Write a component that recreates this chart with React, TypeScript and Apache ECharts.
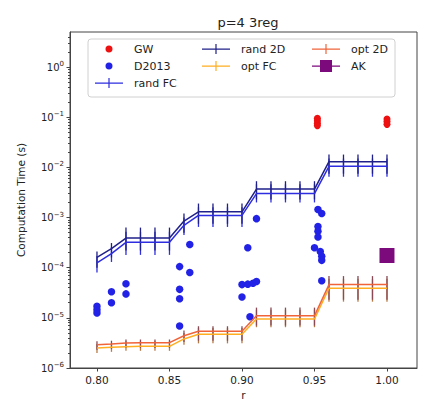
import React, { useEffect, useRef } from 'react';
import * as echarts from 'echarts';

// ---- data ----
const X = [0.80, 0.81, 0.82, 0.83, 0.84, 0.85, 0.86, 0.87, 0.88, 0.89, 0.90, 0.91, 0.92, 0.93, 0.94, 0.95, 0.96, 0.97, 0.98, 0.99, 1.00];

const RAND_FC = [1.25e-4, 1.9e-4, 3.2e-4, 3.2e-4, 3.2e-4, 3.2e-4, 7.0e-4, 1.1e-3, 1.1e-3, 1.1e-3, 1.1e-3, 3.0e-3, 3.0e-3, 3.0e-3, 3.0e-3, 3.0e-3, 1.05e-2, 1.05e-2, 1.05e-2, 1.05e-2, 1.05e-2];
const RAND_FC_LO = [8e-5, 1.3e-4, 1.8e-4, 1.8e-4, 1.8e-4, 1.8e-4, 4.5e-4, 6.5e-4, 6.5e-4, 6.5e-4, 6.5e-4, 2.0e-3, 2.0e-3, 2.0e-3, 2.0e-3, 2.0e-3, 6.5e-3, 6.5e-3, 6.5e-3, 6.5e-3, 6.5e-3];
const RAND_FC_HI = [1.7e-4, 2.6e-4, 5.2e-4, 5.2e-4, 5.2e-4, 5.2e-4, 1.0e-3, 1.6e-3, 1.6e-3, 1.6e-3, 1.6e-3, 4.6e-3, 4.6e-3, 4.6e-3, 4.6e-3, 4.6e-3, 1.5e-2, 1.5e-2, 1.5e-2, 1.5e-2, 1.5e-2];

const RAND_2D = [1.6e-4, 2.4e-4, 3.9e-4, 3.9e-4, 3.9e-4, 3.9e-4, 8.5e-4, 1.3e-3, 1.3e-3, 1.3e-3, 1.3e-3, 3.7e-3, 3.7e-3, 3.7e-3, 3.7e-3, 3.7e-3, 1.3e-2, 1.3e-2, 1.3e-2, 1.3e-2, 1.3e-2];
const RAND_2D_LO = [1.0e-4, 1.6e-4, 2.2e-4, 2.2e-4, 2.2e-4, 2.2e-4, 5.0e-4, 7.5e-4, 7.5e-4, 7.5e-4, 7.5e-4, 2.3e-3, 2.3e-3, 2.3e-3, 2.3e-3, 2.3e-3, 7.5e-3, 7.5e-3, 7.5e-3, 7.5e-3, 7.5e-3];
const RAND_2D_HI = [2.1e-4, 3.1e-4, 6.3e-4, 6.3e-4, 6.3e-4, 6.3e-4, 1.2e-3, 1.9e-3, 1.9e-3, 1.9e-3, 1.9e-3, 5.3e-3, 5.3e-3, 5.3e-3, 5.3e-3, 5.3e-3, 1.8e-2, 1.8e-2, 1.8e-2, 1.8e-2, 1.8e-2];

const OPT_FC = [2.5e-6, 2.6e-6, 2.65e-6, 2.7e-6, 2.7e-6, 2.7e-6, 3.8e-6, 4.7e-6, 4.7e-6, 4.7e-6, 4.7e-6, 9.5e-6, 9.5e-6, 9.5e-6, 9.5e-6, 9.5e-6, 3.9e-5, 3.9e-5, 3.9e-5, 3.9e-5, 3.9e-5];
const OPT_FC_LO = [2.0e-6, 2.1e-6, 2.2e-6, 2.2e-6, 2.2e-6, 2.2e-6, 2.9e-6, 3.1e-6, 3.1e-6, 3.1e-6, 3.1e-6, 6.5e-6, 6.5e-6, 6.5e-6, 6.5e-6, 6.5e-6, 2.1e-5, 2.1e-5, 2.1e-5, 2.1e-5, 2.1e-5];
const OPT_FC_HI = [3.0e-6, 3.1e-6, 3.4e-6, 3.4e-6, 3.4e-6, 3.4e-6, 5.0e-6, 6.3e-6, 6.3e-6, 6.3e-6, 6.3e-6, 1.45e-5, 1.45e-5, 1.45e-5, 1.45e-5, 1.45e-5, 6.0e-5, 6.0e-5, 6.0e-5, 6.0e-5, 6.0e-5];

const OPT_2D = [2.9e-6, 3.0e-6, 3.15e-6, 3.2e-6, 3.2e-6, 3.2e-6, 4.4e-6, 5.4e-6, 5.4e-6, 5.4e-6, 5.4e-6, 1.1e-5, 1.1e-5, 1.1e-5, 1.1e-5, 1.1e-5, 4.6e-5, 4.6e-5, 4.6e-5, 4.6e-5, 4.6e-5];
const OPT_2D_LO = [2.3e-6, 2.4e-6, 2.5e-6, 2.5e-6, 2.5e-6, 2.5e-6, 3.3e-6, 3.5e-6, 3.5e-6, 3.5e-6, 3.5e-6, 7.0e-6, 7.0e-6, 7.0e-6, 7.0e-6, 7.0e-6, 2.3e-5, 2.3e-5, 2.3e-5, 2.3e-5, 2.3e-5];
const OPT_2D_HI = [3.4e-6, 3.5e-6, 3.7e-6, 3.7e-6, 3.7e-6, 3.7e-6, 5.6e-6, 6.8e-6, 6.8e-6, 6.8e-6, 6.8e-6, 1.6e-5, 1.6e-5, 1.6e-5, 1.6e-5, 1.6e-5, 6.8e-5, 6.8e-5, 6.8e-5, 6.8e-5, 6.8e-5];

const GW_X = [0.952, 0.952, 0.952, 0.952, 1.0, 1.0, 1.0];
const GW_Y = [0.095, 0.085, 0.076, 0.068, 0.092, 0.082, 0.072];

const D2013_X = [0.80, 0.80, 0.80, 0.81, 0.81, 0.82, 0.82, 0.857, 0.857, 0.857, 0.857, 0.864, 0.864, 0.900, 0.900, 0.904, 0.904, 0.9055, 0.9076, 0.910, 0.910, 0.9524, 0.955, 0.9524, 0.9524, 0.9524, 0.950, 0.954, 0.955, 0.955, 0.955];
const D2013_Y = [1.7e-5, 1.45e-5, 1.25e-5, 3.3e-5, 2.0e-5, 4.8e-5, 3.0e-5, 1.05e-4, 3.7e-5, 2.4e-5, 6.9e-6, 2.9e-4, 8.0e-5, 2.6e-5, 4.6e-5, 2.5e-4, 4.7e-5, 1.05e-5, 4.9e-5, 5.3e-5, 9.5e-4, 1.45e-3, 1.2e-3, 6.6e-4, 5.3e-4, 4.1e-4, 2.5e-4, 2.1e-4, 1.7e-4, 1.4e-4, 5.5e-5];

const AK_X = [1.0];
const AK_Y = [1.75e-4];

const X_TICKS = [0.80, 0.85, 0.90, 0.95, 1.00];
const Y_TICKS = [1e-6, 1e-5, 1e-4, 1e-3, 1e-2, 1e-1, 1e0];
const Y_MINOR = [2e-6, 3e-6, 4e-6, 5e-6, 6e-6, 7e-6, 8e-6, 9e-6, 2e-5, 3e-5, 4e-5, 5e-5, 6e-5, 7e-5, 8e-5, 9e-5, 2e-4, 3e-4, 4e-4, 5e-4, 6e-4, 7e-4, 8e-4, 9e-4, 2e-3, 3e-3, 4e-3, 5e-3, 6e-3, 7e-3, 8e-3, 9e-3, 2e-2, 3e-2, 4e-2, 5e-2, 6e-2, 7e-2, 8e-2, 9e-2, 2e-1, 3e-1, 4e-1, 5e-1, 6e-1, 7e-1, 8e-1, 9e-1, 2, 3, 4];

const X_MIN = 0.7814;
const X_MAX = 1.0207;
const Y_MIN = 1e-6;
const Y_MAX = 5;

const C_RAND_FC = '#2e2ee0';
const C_RAND_2D = '#20208a';
const C_OPT_FC = '#ffae22';
const C_OPT_2D = '#f0643a';

const FONT = 'DejaVu Sans';

const CORNERS = 'M0,0h0.01v0.01h-0.01zM27.99,11.99h0.01v0.01h-0.01z';
const ICON_BAR = 'path://' + CORNERS + 'M0,5.4h28v1.3h-28zM13.4,1h1.2v10h-1.2z';
const ICON_DOT = 'path://' + CORNERS + 'M10.5,6a3.5,3.5 0 1,0 7,0a3.5,3.5 0 1,0 -7,0z';
const ICON_AK = 'path://' + CORNERS + 'M0,5.4h28v1.3h-28zM8,0h12v12h-12z';

function zip(xs: number[], ys: number[]) {
  return xs.map((x, i) => [x, ys[i]]);
}

function errSeries(name: string, lo: number[], hi: number[], color: string, z: number) {
  return {
    type: 'custom',
    name,
    xAxisIndex: 0,
    yAxisIndex: 0,
    z,
    data: X.map((x, i) => [x, lo[i], hi[i]]),
    encode: { x: 0, y: [1, 2] },
    renderItem: (_p: any, api: any) => {
      const a = api.coord([api.value(0), api.value(1)]);
      const b = api.coord([api.value(0), api.value(2)]);
      return {
        type: 'line',
        shape: { x1: a[0], y1: a[1], x2: b[0], y2: b[1] },
        style: { stroke: color, lineWidth: 1.3 },
      };
    },
  };
}

function lineSeries(name: string, ys: number[], color: string, z: number) {
  return {
    type: 'line',
    name,
    xAxisIndex: 0,
    yAxisIndex: 0,
    z,
    data: zip(X, ys),
    showSymbol: false,
    symbol: 'none',
    color,
    lineStyle: { color, width: 1.5 },
  };
}

function fmtPow(v: number) {
  const e = Math.round(Math.log10(v));
  const s = e < 0 ? '\u2212' + -e : '' + e;
  return '{b|10}{s|' + s + '}';
}

const legendText = { fontFamily: FONT, fontSize: 11, color: '#222', padding: [0, 0, 0, 6] };

function legendCol(left: number, data: any[]) {
  return {
    orient: 'vertical',
    left,
    top: 43,
    padding: 0,
    itemGap: 5,
    itemWidth: 28,
    itemHeight: 12,
    textStyle: legendText,
    selectedMode: false,
    data,
  };
}

const option: any = {
  animation: false,
  backgroundColor: '#fff',
  title: {
    text: 'p=4 3reg',
    left: 243,
    textAlign: 'center',
    top: 11,
    textStyle: { fontFamily: FONT, fontSize: 13, fontWeight: 'normal', color: '#222' },
  },
  grid: {
    left: 70,
    right: 6,
    top: 32,
    bottom: 33,
    containLabel: false,
    outerBoundsMode: 'none',
    show: true,
    borderColor: '#444',
    borderWidth: 1,
    backgroundColor: 'transparent',
  },
  graphic: [
    {
      type: 'rect',
      z: 3,
      shape: { x: 88, y: 39, width: 307, height: 58, r: 3 },
      style: { fill: 'rgba(255,255,255,0.8)', stroke: '#d0d0d0', lineWidth: 1 },
    },
  ],
  legend: [
    legendCol(95, [
      { name: 'GW', icon: ICON_DOT },
      { name: 'D2013', icon: ICON_DOT },
      { name: 'rand FC', icon: ICON_BAR },
    ]),
    legendCol(202, [
      { name: 'rand 2D', icon: ICON_BAR },
      { name: 'opt FC', icon: ICON_BAR },
    ]),
    legendCol(312, [
      { name: 'opt 2D', icon: ICON_BAR },
      { name: 'AK', icon: ICON_AK },
    ]),
  ],
  xAxis: {
    type: 'value',
    min: X_MIN,
    max: X_MAX,
    name: 'r',
    nameLocation: 'middle',
    nameGap: 20,
    nameTextStyle: { fontFamily: FONT, fontSize: 10.5, color: '#222', lineHeight: 11 },
    splitLine: { show: false },
    axisLine: { show: true, lineStyle: { color: '#444' } },
    axisTick: { show: true, length: 3.5, customValues: X_TICKS, lineStyle: { color: '#444' } },
    axisLabel: {
      customValues: X_TICKS,
      formatter: (v: number) => v.toFixed(2),
      fontFamily: FONT,
      fontSize: 10.5,
      color: '#222',
      margin: 6,
    },
  },
  yAxis: [
    {
      type: 'log',
      logBase: 10,
      min: Y_MIN,
      max: Y_MAX,
      position: 'left',
      name: 'Computation Time (s)',
      nameLocation: 'middle',
      nameGap: 44,
      nameTextStyle: { fontFamily: FONT, fontSize: 10.5, color: '#222' },
      splitLine: { show: false },
      axisLine: { show: true, lineStyle: { color: '#444' } },
      axisTick: { show: true, length: 3.5, customValues: Y_TICKS, lineStyle: { color: '#444' } },
      axisLabel: {
        customValues: Y_TICKS,
        formatter: fmtPow,
        margin: 6,
        color: '#222',
        rich: {
          b: { fontFamily: FONT, fontSize: 10, color: '#222' },
          s: { fontFamily: FONT, fontSize: 7, color: '#222', padding: [0, 0, 6, 0] },
        },
      },
    },
    {
      type: 'log',
      logBase: 10,
      min: Y_MIN,
      max: Y_MAX,
      position: 'left',
      offset: 0,
      splitLine: { show: false },
      axisLine: { show: false },
      axisLabel: { show: false },
      axisTick: { show: true, length: 2, customValues: Y_MINOR, lineStyle: { color: '#444' } },
    },
  ],
  series: [
    {
      type: 'scatter',
      name: 'GW',
      z: 2,
      data: zip(GW_X, GW_Y),
      symbol: 'circle',
      symbolSize: 7,
      itemStyle: { color: '#ee1111', opacity: 1 },
    },
    {
      type: 'scatter',
      name: 'D2013',
      z: 2,
      data: zip(D2013_X, D2013_Y),
      symbol: 'circle',
      symbolSize: 7.5,
      itemStyle: { color: '#2222e6', opacity: 1 },
    },
    lineSeries('rand FC', RAND_FC, C_RAND_FC, 5),
    errSeries('rand FC err', RAND_FC_LO, RAND_FC_HI, C_RAND_FC, 4),
    lineSeries('rand 2D', RAND_2D, C_RAND_2D, 5),
    errSeries('rand 2D err', RAND_2D_LO, RAND_2D_HI, C_RAND_2D, 4),
    lineSeries('opt FC', OPT_FC, C_OPT_FC, 5),
    errSeries('opt FC err', OPT_FC_LO, OPT_FC_HI, '#b87a45', 4),
    lineSeries('opt 2D', OPT_2D, C_OPT_2D, 5),
    errSeries('opt 2D err', OPT_2D_LO, OPT_2D_HI, '#8a4a55', 4),
    {
      type: 'scatter',
      name: 'AK',
      z: 6,
      data: zip(AK_X, AK_Y),
      symbol: 'rect',
      symbolSize: 15,
      itemStyle: { color: '#7d0a7d', opacity: 1 },
    },
  ],
};

export default function App() {
  const ref = useRef<HTMLDivElement>(null);
  useEffect(() => {
    const chart = echarts.init(ref.current!, null, { renderer: 'svg' });
    chart.setOption(option);
    return () => chart.dispose();
  }, []);
  return (
    <div
      ref={ref}
      style={{ width: 423, height: 401, position: 'absolute', left: 0, top: 0 }}
    />
  );
}
